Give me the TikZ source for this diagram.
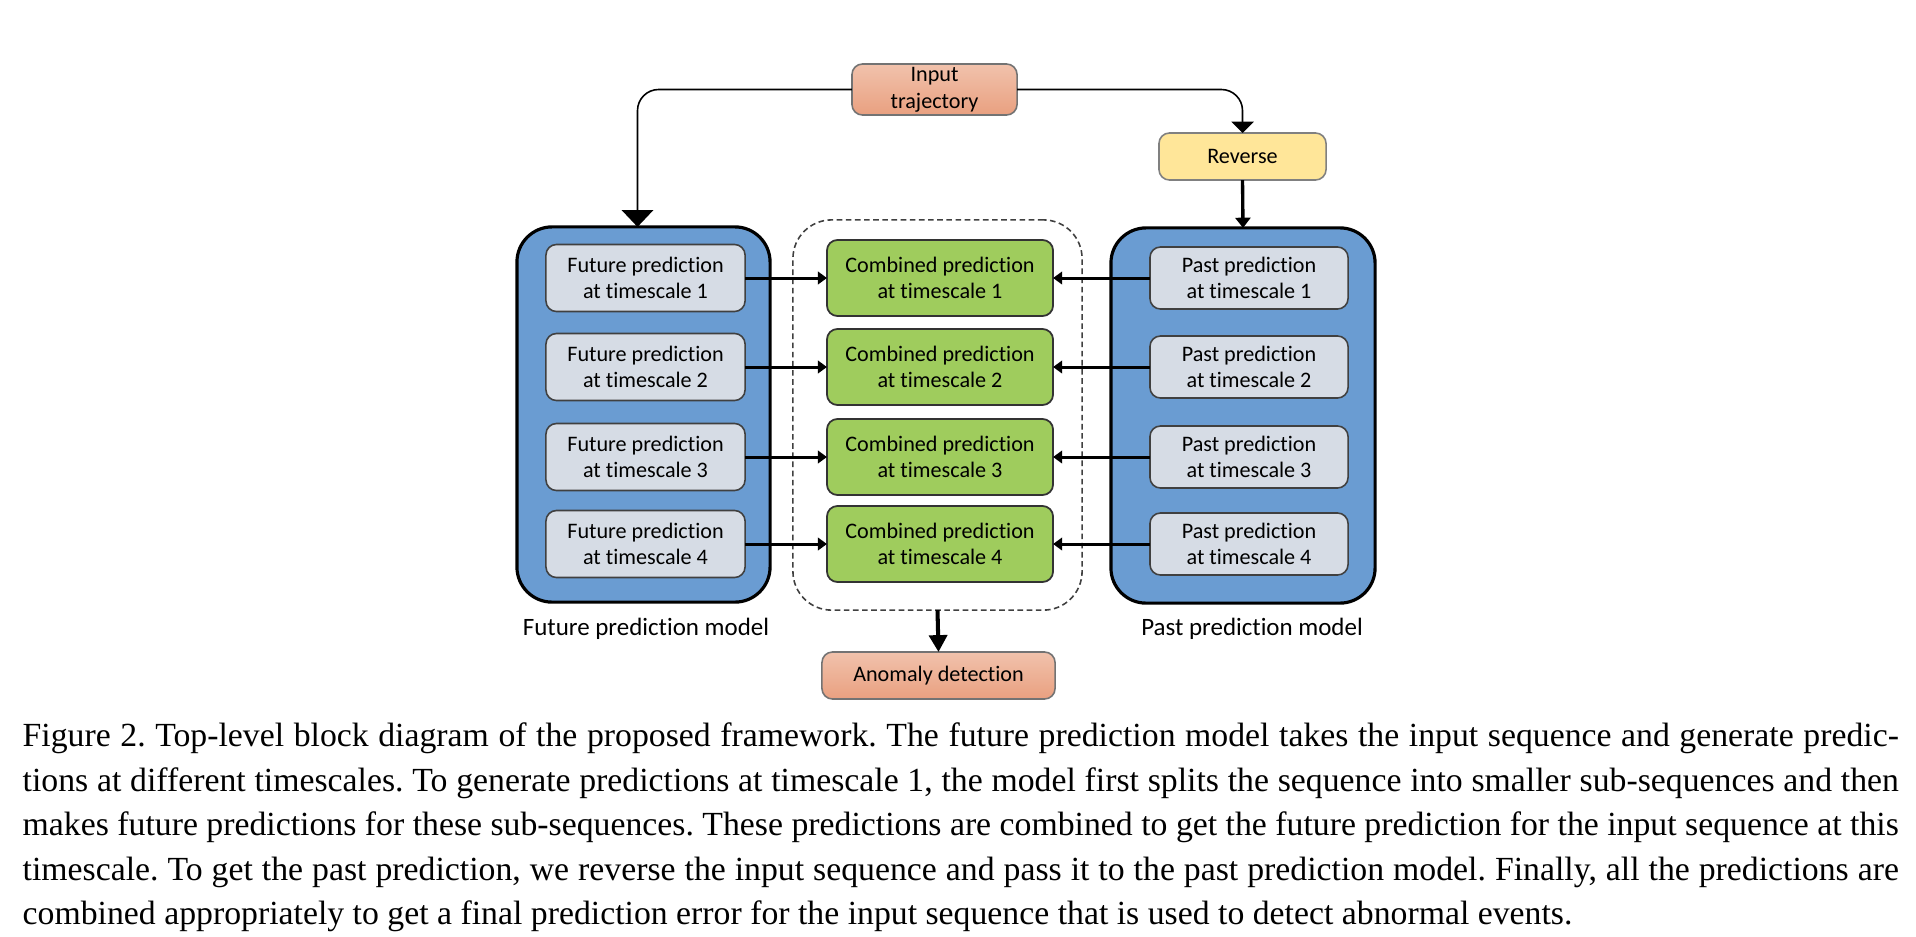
\documentclass[tikz,border=0pt]{standalone}
\usepackage{fontspec}
\setmainfont{Carlito}[Ligatures=NoCommon]
\newfontfamily\capfont{Liberation Serif}
\usetikzlibrary{positioning, arrows.meta, calc}

\definecolor{modelblue}{RGB}{106,156,210}
\definecolor{subgray}{RGB}{214,220,229}
\definecolor{combgreen}{RGB}{159,204,93}
\definecolor{salmontop}{RGB}{241,194,172}
\definecolor{salmonbot}{RGB}{233,160,128}
\definecolor{revyellow}{RGB}{255,230,153}

\begin{document}
\begin{tikzpicture}[x=0.01cm, y=-0.01cm,
  font=\fontsize{6.3}{7.6}\selectfont,
  box/.style={align=center, inner sep=0pt, outer sep=0pt, rounded corners=3pt},
  subbox/.style={box, draw=black!75, line width=0.45pt, fill=subgray,
    minimum width=1.99cm, minimum height=0.67cm},
  combbox/.style={box, draw=black!80, line width=0.5pt, fill=combgreen,
    minimum width=2.26cm, minimum height=0.76cm},
  modelbox/.style={draw=black, line width=0.9pt, fill=modelblue,
    rounded corners=10pt, inner sep=0pt, outer sep=0pt},
  framebox/.style={draw=black!75, line width=0.45pt, dash pattern=on 1.6pt off 1pt,
    rounded corners=11pt, inner sep=0pt, outer sep=0pt},
  iobox/.style={box, draw=black!55, line width=0.45pt,
    top color=salmontop, bottom color=salmonbot},
  revbox/.style={box, draw=black!50, line width=0.45pt, fill=revyellow},
  flow/.style={line width=0.85pt, -{Triangle[length=2.6pt, width=3.6pt]}},
  feed/.style={line width=0.45pt, rounded corners=6pt},
  modellabel/.style={anchor=base, font=\fontsize{7.1}{8.5}\selectfont}]

  \useasboundingbox (0,0) rectangle (1916,936);

  % --- Model frames and combination frame ---
  \node[modelbox, minimum width=2.53cm, minimum height=3.75cm] (fmodel) at (643.5,414.5) {};
  \node[modelbox, minimum width=2.64cm, minimum height=3.75cm] (pmodel) at (1243,415.5) {};
  \node[framebox, minimum width=2.89cm, minimum height=3.90cm] (frame) at (937.5,415) {};

  % --- Input and reverse ---
  \node[iobox, minimum width=1.65cm, minimum height=0.51cm] (input) at (934.5,89.5)
    {Input\\trajectory};
  \node[revbox, minimum width=1.67cm, minimum height=0.47cm] (rev) at (1242.5,156.5)
    {Reverse};

  % --- Timescale rows ---
  \foreach \i/\y in {1/278, 2/367, 3/457, 4/544}{
    \node[subbox] (f\i) at (645.5,\y) {Future prediction\\at timescale \i};
    \node[combbox] (c\i) at (940,\y) {Combined prediction\\at timescale \i};
    \node[subbox, minimum width=1.98cm, minimum height=0.62cm] (p\i) at (1249,\y)
      {Past prediction\\at timescale \i};
    \draw[flow] (f\i) -- (c\i);
    \draw[flow] (p\i) -- (c\i);
  }

  % --- Anomaly detection ---
  \node[iobox, minimum width=2.33cm, minimum height=0.47cm] (anom) at (938.5,675.5)
    {Anomaly detection};

  % --- Connectors ---
  \draw[feed, -{Triangle[length=4.8pt, width=9pt]}] (input.west) -| ([xshift=-0.06cm]fmodel.north);
  \draw[feed, -{Triangle[length=3.2pt, width=6.3pt]}] (input.east) -| (rev.north);
  \draw[line width=0.95pt, -{Triangle[length=2.9pt, width=4.3pt]}] (rev.south) -- (pmodel.north);
  \draw[line width=1.15pt, -{Triangle[length=4.8pt, width=5.1pt]}] (frame.south) -- (anom.north);

  % --- Model labels ---
  \node[modellabel] (flabel) at (646,635) {Future prediction model};
  \node[modellabel] (plabel) at (1252,635) {Past prediction model};

  % --- Caption ---
  \node[anchor=north west, inner sep=0pt, text width=18.75cm, align=justify,
    font=\capfont\fontsize{9.6}{12.66}\selectfont] (caption) at (22,722)
    {\frenchspacing\hyphenpenalty=10000\exhyphenpenalty=10000
     Figure 2. Top-level block diagram of the proposed framework. The future prediction model takes the input sequence and generate predic-\linebreak
     tions at different timescales. To generate predictions at timescale 1, the model first splits the sequence into smaller sub-sequences and then\linebreak
     makes future predictions for these sub-sequences. These predictions are combined to get the future prediction for the input sequence at this\linebreak
     timescale. To get the past prediction, we reverse the input sequence and pass it to the past prediction model. Finally, all the predictions are\linebreak
     combined appropriately to get a final prediction error for the input sequence that is used to detect abnormal events.};

\end{tikzpicture}
\end{document}
